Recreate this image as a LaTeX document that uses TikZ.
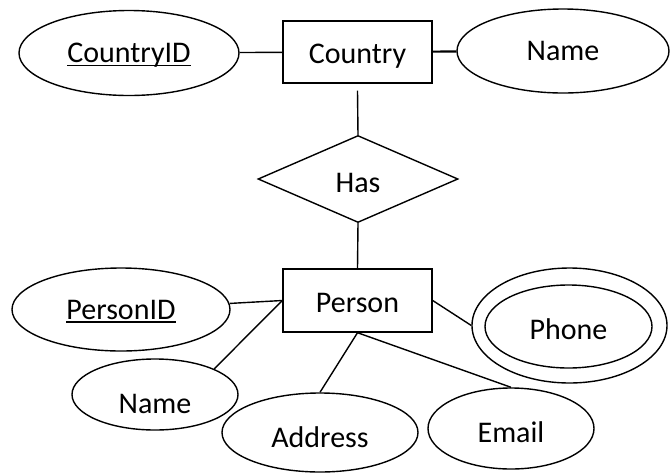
\documentclass[tikz,border=0pt]{standalone}
\usepackage{fontspec}
\setmainfont{Carlito}
\usetikzlibrary{shapes.geometric}
\newcommand{\keyattr}[1]{\setbox0\hbox{#1}\rlap{\rule[-3.7pt]{\wd0}{1.4pt}}\box0}

\begin{document}
\begin{tikzpicture}[x=1pt,y=-1pt,
  every node/.style={font=\fontsize{30}{36}\selectfont, text height=19pt, text depth=0pt, inner sep=0pt, line width=1.4pt},
  entity/.style={draw, rectangle, minimum width=149pt, minimum height=62pt},
  attr/.style={draw, ellipse},
  rel/.style={draw, diamond, minimum width=200pt, minimum height=87pt},
  link/.style={line width=1.4pt}]
  \useasboundingbox (0,0) rectangle (670,472);
   \node[entity, text height=23pt] (country) at (357.5,52) {Country};
   \node[attr, minimum width=220pt, minimum height=85pt] (cid) at (129,53) {\keyattr{CountryID}};
   \node[attr, minimum width=212pt, minimum height=84pt] (cname) at (563,51) {Name};
   \node[rel, text height=26pt] (has) at (358,179) {Has};
   \node[entity, minimum height=63pt, text height=24pt] (person) at (357.5,300.5) {Person};
   \node[attr, minimum width=218pt, minimum height=83pt] (pid) at (121,309.5) {\keyattr{PersonID}};
   \node[attr, minimum width=166pt, minimum height=71pt, text height=37pt] (pname) at (155,394.5) {Name};
   \node[attr, minimum width=196pt, minimum height=79pt, text height=30pt] (addr) at (320,432.5) {Address};
   \node[attr, minimum width=166pt, minimum height=81pt, text height=27pt] (email) at (511,428.5) {Email};
   \node[attr, minimum width=195pt, minimum height=115pt] (phone) at (569.5,325.5) {};
   \node[attr, minimum width=167pt, minimum height=83pt, text height=25pt] (phonein) at (568.5,326.5) {Phone};
   \draw[link]         (cid) -- (country);
   \draw[line width=2.2pt] (country) -- (cname);
   \draw[link]         ([yshift=-7pt]country.south) -- (has.north);
   \draw[link]         (has.south) -- (person.north);
   \draw[link]         (pid) -- (person.west);
   \draw[link]         (pname.north east) -- (person.west);
   \draw[link]         (addr.north) -- (person.south);
   \draw[link]         (email.north) -- (person.south);
   \draw[link]         (person.east) -- (phone.west);
\end{tikzpicture}
\end{document}
